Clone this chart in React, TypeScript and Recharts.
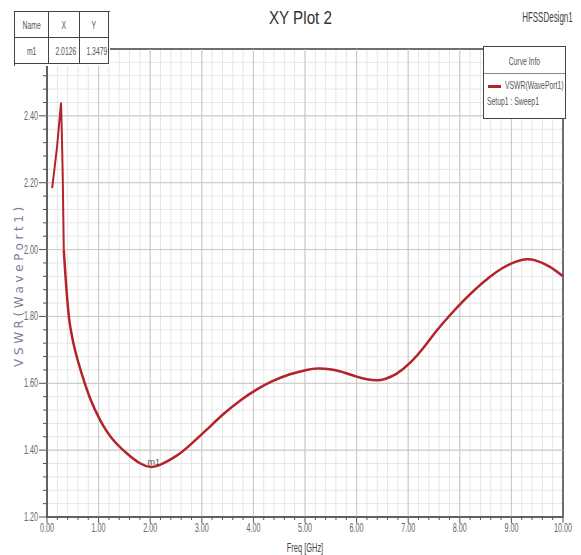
import React from 'react';
import {
  LineChart, Line, XAxis, YAxis, CartesianGrid, ReferenceLine, ReferenceArea, ReferenceDot,
} from 'recharts';

// VSWR(WavePort1)
const freqGHz = [0.1, 0.195, 0.272, 0.29, 0.305, 0.325, 0.35, 0.375, 0.42, 0.47, 0.55, 0.68, 0.84, 1.03, 1.26, 1.55, 1.81, 2.0, 2.19, 2.5, 2.77, 3.1, 3.42, 3.74, 4.06, 4.38, 4.71, 5.03, 5.25, 5.48, 5.67, 5.8, 6.0, 6.2, 6.4, 6.55, 6.77, 7.05, 7.3, 7.55, 7.8, 8.06, 8.32, 8.58, 8.83, 9.09, 9.29, 9.48, 9.74, 10.0];
const vswr = [2.184, 2.307, 2.44, 2.33, 2.22, 2.0, 1.94, 1.885, 1.805, 1.752, 1.695, 1.625, 1.553, 1.49, 1.435, 1.39, 1.36, 1.35, 1.356, 1.382, 1.415, 1.462, 1.508, 1.548, 1.581, 1.607, 1.627, 1.64, 1.644, 1.642, 1.636, 1.63, 1.62, 1.612, 1.609, 1.613, 1.628, 1.663, 1.707, 1.757, 1.802, 1.845, 1.884, 1.918, 1.945, 1.964, 1.971, 1.967, 1.949, 1.92];
// the spike near the start is drawn with straight segments, the rest smooth
const spikeEnd = 0.325;

const xMajor = [0, 1, 2, 3, 4, 5, 6, 7, 8, 9, 10];
const yMajor = [1.2, 1.4, 1.6, 1.8, 2.0, 2.2, 2.4, 2.6];
const yLabelled = [1.2, 1.4, 1.6, 1.8, 2.0, 2.2, 2.4];

const markerName = 'm1';
const markerX = 2.0126;
const markerY = 1.3479;
const seriesName = 'VSWR(WavePort1)';
const sweepName = 'Setup1 : Sweep1';
const title = 'XY Plot 2';
const designName = 'HFSSDesign1';

// minor grid: 5 divisions per major step
const xTicks: number[] = [];
for (let i = 0; i <= 50; i++) xTicks.push(+(i * 0.2).toFixed(2));
const yTicks: number[] = [];
for (let i = 0; i <= 35; i++) yTicks.push(+(1.2 + i * 0.04).toFixed(2));

const data = freqGHz.map((f, i) => ({
  f,
  spike: f <= spikeEnd ? vswr[i] : null,
  smooth: f >= spikeEnd ? vswr[i] : null,
}));

const font = 'Arial, "Liberation Sans", sans-serif';
const red = '#b3232b';
const has = (arr: number[], v: number) => arr.some((a) => Math.abs(a - v) < 1e-6);

function XTick(props: any) {
  const { x, y, payload } = props;
  const major = has(xMajor, payload.value);
  return (
    <g>
      <line x1={x} x2={x} y1={y} y2={y + (major ? 6 : 3)} stroke="#555" />
      {major && (
        <text transform={`translate(${x},${y + 15}) scale(0.6,1)`} textAnchor="middle" fontSize={12} fill="#666" fontFamily={font}>
          {payload.value.toFixed(2)}
        </text>
      )}
    </g>
  );
}

function YTick(props: any) {
  const { x, y, payload } = props;
  const major = has(yMajor, payload.value);
  return (
    <g>
      <line x1={x - (major ? 8 : 4)} x2={x} y1={y} y2={y} stroke="#555" />
      {has(yLabelled, payload.value) && (
        <text transform={`translate(${x - 9},${y + 4}) scale(0.6,1)`} textAnchor="end" fontSize={12} fill="#666" fontFamily={font}>
          {payload.value.toFixed(2)}
        </text>
      )}
    </g>
  );
}

function Narrow({ children, origin = 'center', k = 0.62 }: { children: React.ReactNode; origin?: string; k?: number }) {
  return (
    <span style={{ display: 'inline-block', transform: `scaleX(${k})`, transformOrigin: origin, whiteSpace: 'nowrap' }}>
      {children}
    </span>
  );
}

function Cell({ left, top, width, text }: { left: number; top: number; width: number; text: string }) {
  return (
    <div style={{
      position: 'absolute', left, top, width, height: 26, lineHeight: '26px', textAlign: 'center',
      fontSize: 11, color: '#555', borderRight: '1px solid #444', borderBottom: '1px solid #444', boxSizing: 'border-box',
    }}>
      <Narrow>{text}</Narrow>
    </div>
  );
}

function XLabel(props: any) {
  const { viewBox } = props;
  const cx = viewBox.x + viewBox.width / 2;
  return (
    <text transform={`translate(${cx},${viewBox.y + viewBox.height - 3}) scale(0.62,1)`} textAnchor="middle" fontSize={12} fill="#444" fontFamily={font}>
      Freq [GHz]
    </text>
  );
}

export default function App() {
  return (
    <div style={{ position: 'absolute', left: 0, top: 0, width: 581, height: 555, background: '#fff', fontFamily: font }}>
      <LineChart width={581} height={555} data={data} margin={{ top: 49, right: 18, bottom: 0, left: 0 }}>
        <CartesianGrid stroke="#e6e6e6" />
        {xMajor.slice(1, -1).map((v) => (
          <ReferenceLine key={'x' + v} x={v} stroke="#c8c8c8" />
        ))}
        {yMajor.slice(1, -1).map((v) => (
          <ReferenceLine key={'y' + v} y={v} stroke="#c8c8c8" />
        ))}
        <XAxis
          dataKey="f" type="number" domain={[0, 10]} ticks={xTicks} interval={0}
          height={38} tickSize={0} tickMargin={0} tick={<XTick />}
          axisLine={{ stroke: '#555' }}
          label={<XLabel />}
        />
        <YAxis
          type="number" domain={[1.2, 2.6]} ticks={yTicks} interval={0}
          width={47} tickSize={0} tickMargin={0} tick={<YTick />}
          axisLine={{ stroke: '#555' }}
          label={{ value: seriesName, angle: -90, position: 'insideLeft', offset: 19, dy: 2, fontSize: 12, fill: '#857a96', fontFamily: 'DejaVu Sans', letterSpacing: 3.6, style: { textAnchor: 'middle' } }}
        />
        <ReferenceArea x1={0} x2={10} y1={1.2} y2={2.6} fill="none" stroke="#444" strokeWidth={1.5} />
        <Line
          type="linear" dataKey="spike" name={seriesName} stroke={red} strokeWidth={2}
          dot={false} isAnimationActive={false}
        />
        <Line
          type="natural" dataKey="smooth" name={seriesName} stroke={red} strokeWidth={2.5}
          dot={false} isAnimationActive={false}
        />
        <ReferenceDot
          x={markerX} y={markerY} r={0} stroke="none"
          label={{ value: markerName, position: 'top', offset: 3, dx: 3, fontSize: 9, fill: '#555', fontFamily: font }}
        />
      </LineChart>

      <div style={{ position: 'absolute', left: 0, top: 7, width: 600, textAlign: 'center', fontSize: 19, color: '#333' }}>
        <Narrow k={0.8}>{title}</Narrow>
      </div>
      <div style={{ position: 'absolute', right: 8, top: 9, fontSize: 14, color: '#444' }}>
        <Narrow origin="right" k={0.57}>{designName}</Narrow>
      </div>

      <div style={{ position: 'absolute', left: 14, top: 11, width: 95, height: 54, background: '#fff', borderLeft: '1.5px solid #444', borderTop: '1.5px solid #444' }}>
        <Cell left={0} top={0} width={34} text="Name" />
        <Cell left={34} top={0} width={31} text="X" />
        <Cell left={65} top={0} width={29} text="Y" />
        <Cell left={0} top={26} width={34} text={markerName} />
        <Cell left={34} top={26} width={31} text={markerX.toFixed(4)} />
        <Cell left={65} top={26} width={29} text={markerY.toFixed(4)} />
      </div>

      <div style={{ position: 'absolute', left: 483, top: 46, width: 83, height: 73, background: '#fff', border: '1.5px solid #444', fontSize: 11, color: '#555', boxSizing: 'border-box' }}>
        <div style={{ height: 26, borderBottom: '1px solid #888', textAlign: 'center', lineHeight: '28px' }}>
          <Narrow>Curve Info</Narrow>
        </div>
        <div style={{ position: 'absolute', left: 4, top: 38, width: 13, height: 3, background: red }} />
        <div style={{ position: 'absolute', left: 21, top: 32 }}>
          <Narrow origin="left">{seriesName}</Narrow>
        </div>
        <div style={{ position: 'absolute', left: 3, top: 48 }}>
          <Narrow origin="left">{sweepName}</Narrow>
        </div>
      </div>
    </div>
  );
}
